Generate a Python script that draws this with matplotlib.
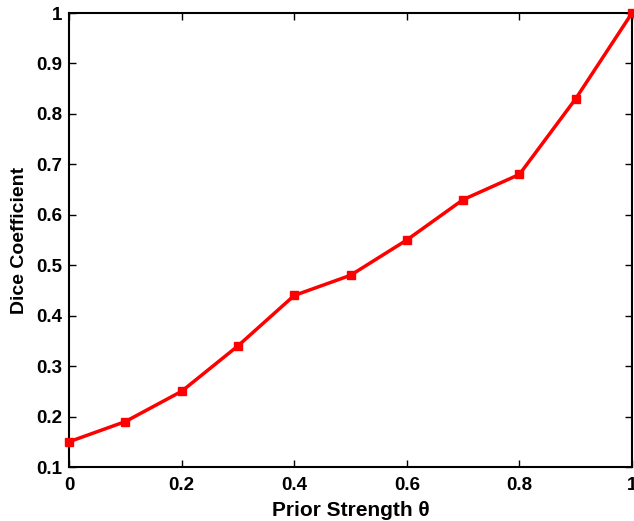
import matplotlib
matplotlib.use("Agg")
import matplotlib.pyplot as plt

theta = [0.0, 0.1, 0.2, 0.3, 0.4, 0.5, 0.6, 0.7, 0.8, 0.9, 1.0]
dice = [0.15, 0.19, 0.25, 0.34, 0.44, 0.48, 0.55, 0.63, 0.68, 0.83, 1.0]
xticks = [0, 0.2, 0.4, 0.6, 0.8, 1]
xticklabels = ["0", "0.2", "0.4", "0.6", "0.8", "1"]
yticks = [0.1, 0.2, 0.3, 0.4, 0.5, 0.6, 0.7, 0.8, 0.9, 1.0]
yticklabels = ["0.1", "0.2", "0.3", "0.4", "0.5", "0.6", "0.7", "0.8", "0.9", "1"]

plt.rcParams['font.family'] = ['Liberation Sans', 'DejaVu Sans']
plt.rcParams['font.weight'] = 'bold'

fig = plt.figure(figsize=(6.34, 5.21), dpi=100)
ax = fig.add_axes([69/634, 1-467/521, (632-69)/634, (467-13)/521])
ax.plot(theta, dice, color='red', linewidth=2.5, marker='s', markersize=6, clip_on=False, zorder=3)
ax.set_xlim(0, 1)
ax.set_ylim(0.1, 1)
ax.set_xticks(xticks)
ax.set_xticklabels(xticklabels, fontsize=13.5, fontweight='bold')
ax.set_yticks(yticks)
ax.set_yticklabels(yticklabels, fontsize=13.5, fontweight='bold')
ax.tick_params(direction='in', top=True, right=True, length=5, width=1, pad=5)
ax.tick_params(axis='x', pad=7)
for s in ax.spines.values():
    s.set_linewidth(1.5)
ax.set_xlabel("Prior Strength θ", fontsize=15, fontweight='bold', labelpad=5)
ax.set_ylabel("Dice Coefficient", fontsize=14, fontweight='bold', labelpad=6)
fig.savefig("out.png", dpi=100)
